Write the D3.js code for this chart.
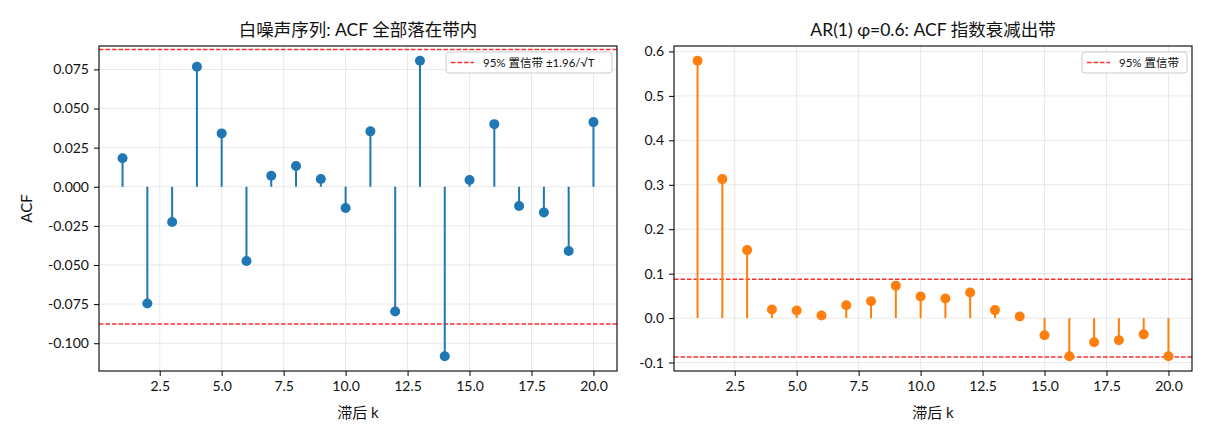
<!DOCTYPE html>
<html>
<head>
<meta charset="utf-8">
<script src="https://cdn.jsdelivr.net/npm/d3@7"></script>
<style>
  body { margin: 0; background: #fff; }
  svg text { font-family: Lato, "Noto Sans CJK SC", sans-serif; fill: #111; }
</style>
</head>
<body>
<div id="chart-area"></div>
<script>
// data
var lags = [1,2,3,4,5,6,7,8,9,10,11,12,13,14,15,16,17,18,19,20];
var whiteAcf = [0.0182,-0.0746,-0.0225,0.0767,0.0341,-0.0475,0.0070,0.0133,0.0049,-0.0136,
                0.0354,-0.0797,0.0805,-0.1083,0.0043,0.0400,-0.0123,-0.0165,-0.0411,0.0413];
var arAcf = [0.579,0.3127,0.153,0.0194,0.0172,0.006,0.029,0.038,0.073,0.0485,
             0.044,0.0575,0.018,0.0037,-0.0388,-0.0858,-0.0545,-0.0500,-0.0366,-0.0858];
var band = 1.96 / Math.sqrt(500);
var xTicks = [2.5,5,7.5,10,12.5,15,17.5,20];
var whiteTicks = [-0.1,-0.075,-0.05,-0.025,0,0.025,0.05,0.075];
var arTicks = [-0.1,0,0.1,0.2,0.3,0.4,0.5,0.6];
var titles = ["白噪声序列: ACF 全部落在带内", "AR(1) φ=0.6: ACF 指数衰减出带"];
var legendLabels = ["95% 置信带 ±1.96/√T", "95% 置信带"];

var W = 1210, H = 440;
var svg = d3.select("#chart-area").append("svg")
    .attr("width", W).attr("height", H);

var plotTop = 46, plotBottom = 371;
var bandColor = "#ff2d2d";

function panel(opt) {
    var g = svg.append("g");
    var x = d3.scaleLinear().domain([0.05, 20.95]).range([opt.left, opt.right]);
    var ext = d3.extent(opt.values);
    var pad = (ext[1] - ext[0]) * 0.05;
    var y = d3.scaleLinear().domain([ext[0] - pad, ext[1] + pad]).range([plotBottom, plotTop]);

    // grid
    g.selectAll(".gx").data(xTicks).enter().append("line")
        .attr("x1", function(d){ return x(d); }).attr("x2", function(d){ return x(d); })
        .attr("y1", plotTop).attr("y2", plotBottom)
        .attr("stroke", "#b0b0b0").attr("stroke-opacity", 0.35).attr("stroke-width", 0.8);
    g.selectAll(".gy").data(opt.ticks).enter().append("line")
        .attr("x1", opt.left).attr("x2", opt.right)
        .attr("y1", function(d){ return y(d); }).attr("y2", function(d){ return y(d); })
        .attr("stroke", "#b0b0b0").attr("stroke-opacity", 0.35).attr("stroke-width", 0.8);

    // confidence band
    [band, -band].forEach(function(b){
        g.append("line")
            .attr("x1", opt.left).attr("x2", opt.right)
            .attr("y1", y(b)).attr("y2", y(b))
            .attr("stroke", bandColor)
            .attr("stroke-width", 1.5).attr("stroke-dasharray", "4.5,2");
    });

    // stems
    g.selectAll(".stem").data(opt.values).enter().append("line")
        .attr("x1", function(d,i){ return x(lags[i]); })
        .attr("x2", function(d,i){ return x(lags[i]); })
        .attr("y1", y(0)).attr("y2", function(d){ return y(d); })
        .attr("stroke", opt.color).attr("stroke-width", 2);
    g.selectAll(".dot").data(opt.values).enter().append("circle")
        .attr("cx", function(d,i){ return x(lags[i]); })
        .attr("cy", function(d){ return y(d); })
        .attr("r", 5).attr("fill", opt.color);

    // axes
    var xAxis = g.append("g")
        .attr("transform", "translate(0," + plotBottom + ")")
        .call(d3.axisBottom(x).tickValues(xTicks).tickFormat(d3.format(".1f"))
            .tickSizeInner(5).tickSizeOuter(0).tickPadding(5));
    var yAxis = g.append("g")
        .attr("transform", "translate(" + opt.left + ",0)")
        .call(d3.axisLeft(y).tickValues(opt.ticks)
            .tickFormat(function(d){ return d3.format(opt.fmt)(d).replace("−", "-"); })
            .tickSizeInner(5).tickSizeOuter(0).tickPadding(5));
    [xAxis, yAxis].forEach(function(a){
        a.select(".domain").remove();
        a.selectAll("text").attr("font-size", "14px").attr("fill", "#111")
            .style("font-family", 'Lato, "Noto Sans CJK SC", sans-serif');
        a.selectAll("line").attr("stroke", "#000").attr("stroke-width", 1);
    });

    // frame
    g.append("rect")
        .attr("x", opt.left).attr("y", plotTop)
        .attr("width", opt.right - opt.left).attr("height", plotBottom - plotTop)
        .attr("fill", "none").attr("stroke", "#000").attr("stroke-width", 1.1);

    // title & labels
    g.append("text")
        .attr("x", (opt.left + opt.right) / 2).attr("y", 36)
        .attr("text-anchor", "middle").attr("font-size", "17.5px")
        .text(opt.title);
    g.append("text")
        .attr("x", (opt.left + opt.right) / 2).attr("y", 418)
        .attr("text-anchor", "middle").attr("font-size", "15px")
        .text("滞后 k");
    if (opt.ylabel) {
        g.append("text")
            .attr("transform", "translate(32," + ((plotTop + plotBottom) / 2) + ") rotate(-90)")
            .attr("text-anchor", "middle").attr("font-size", "15px")
            .text(opt.ylabel);
    }

    // legend
    var lg = g.append("g").attr("transform", "translate(" + opt.legendX + "," + opt.legendY + ")");
    var lw = opt.right - 5 - opt.legendX;
    lg.append("rect")
        .attr("width", lw).attr("height", 21).attr("rx", 3)
        .attr("fill", "#fff").attr("fill-opacity", 0.8)
        .attr("stroke", "#ccc").attr("stroke-width", 1);
    lg.append("line")
        .attr("x1", 5).attr("x2", 28).attr("y1", 10.5).attr("y2", 10.5)
        .attr("stroke", bandColor)
        .attr("stroke-width", 1.5).attr("stroke-dasharray", "4.5,2");
    lg.append("text")
        .attr("x", 37).attr("y", 14.8).attr("font-size", "11.5px")
        .text(opt.legend);
}

panel({
    left: 99, right: 617, values: whiteAcf, ticks: whiteTicks, fmt: ".3f",
    color: "#1f77b4", title: titles[0], ylabel: "ACF",
    legend: legendLabels[0], legendX: 446, legendY: 52
});
panel({
    left: 674, right: 1192, values: arAcf, ticks: arTicks, fmt: ".1f",
    color: "#ff7f0e", title: titles[1], ylabel: null,
    legend: legendLabels[1], legendX: 1082, legendY: 52
});
</script>
</body>
</html>
